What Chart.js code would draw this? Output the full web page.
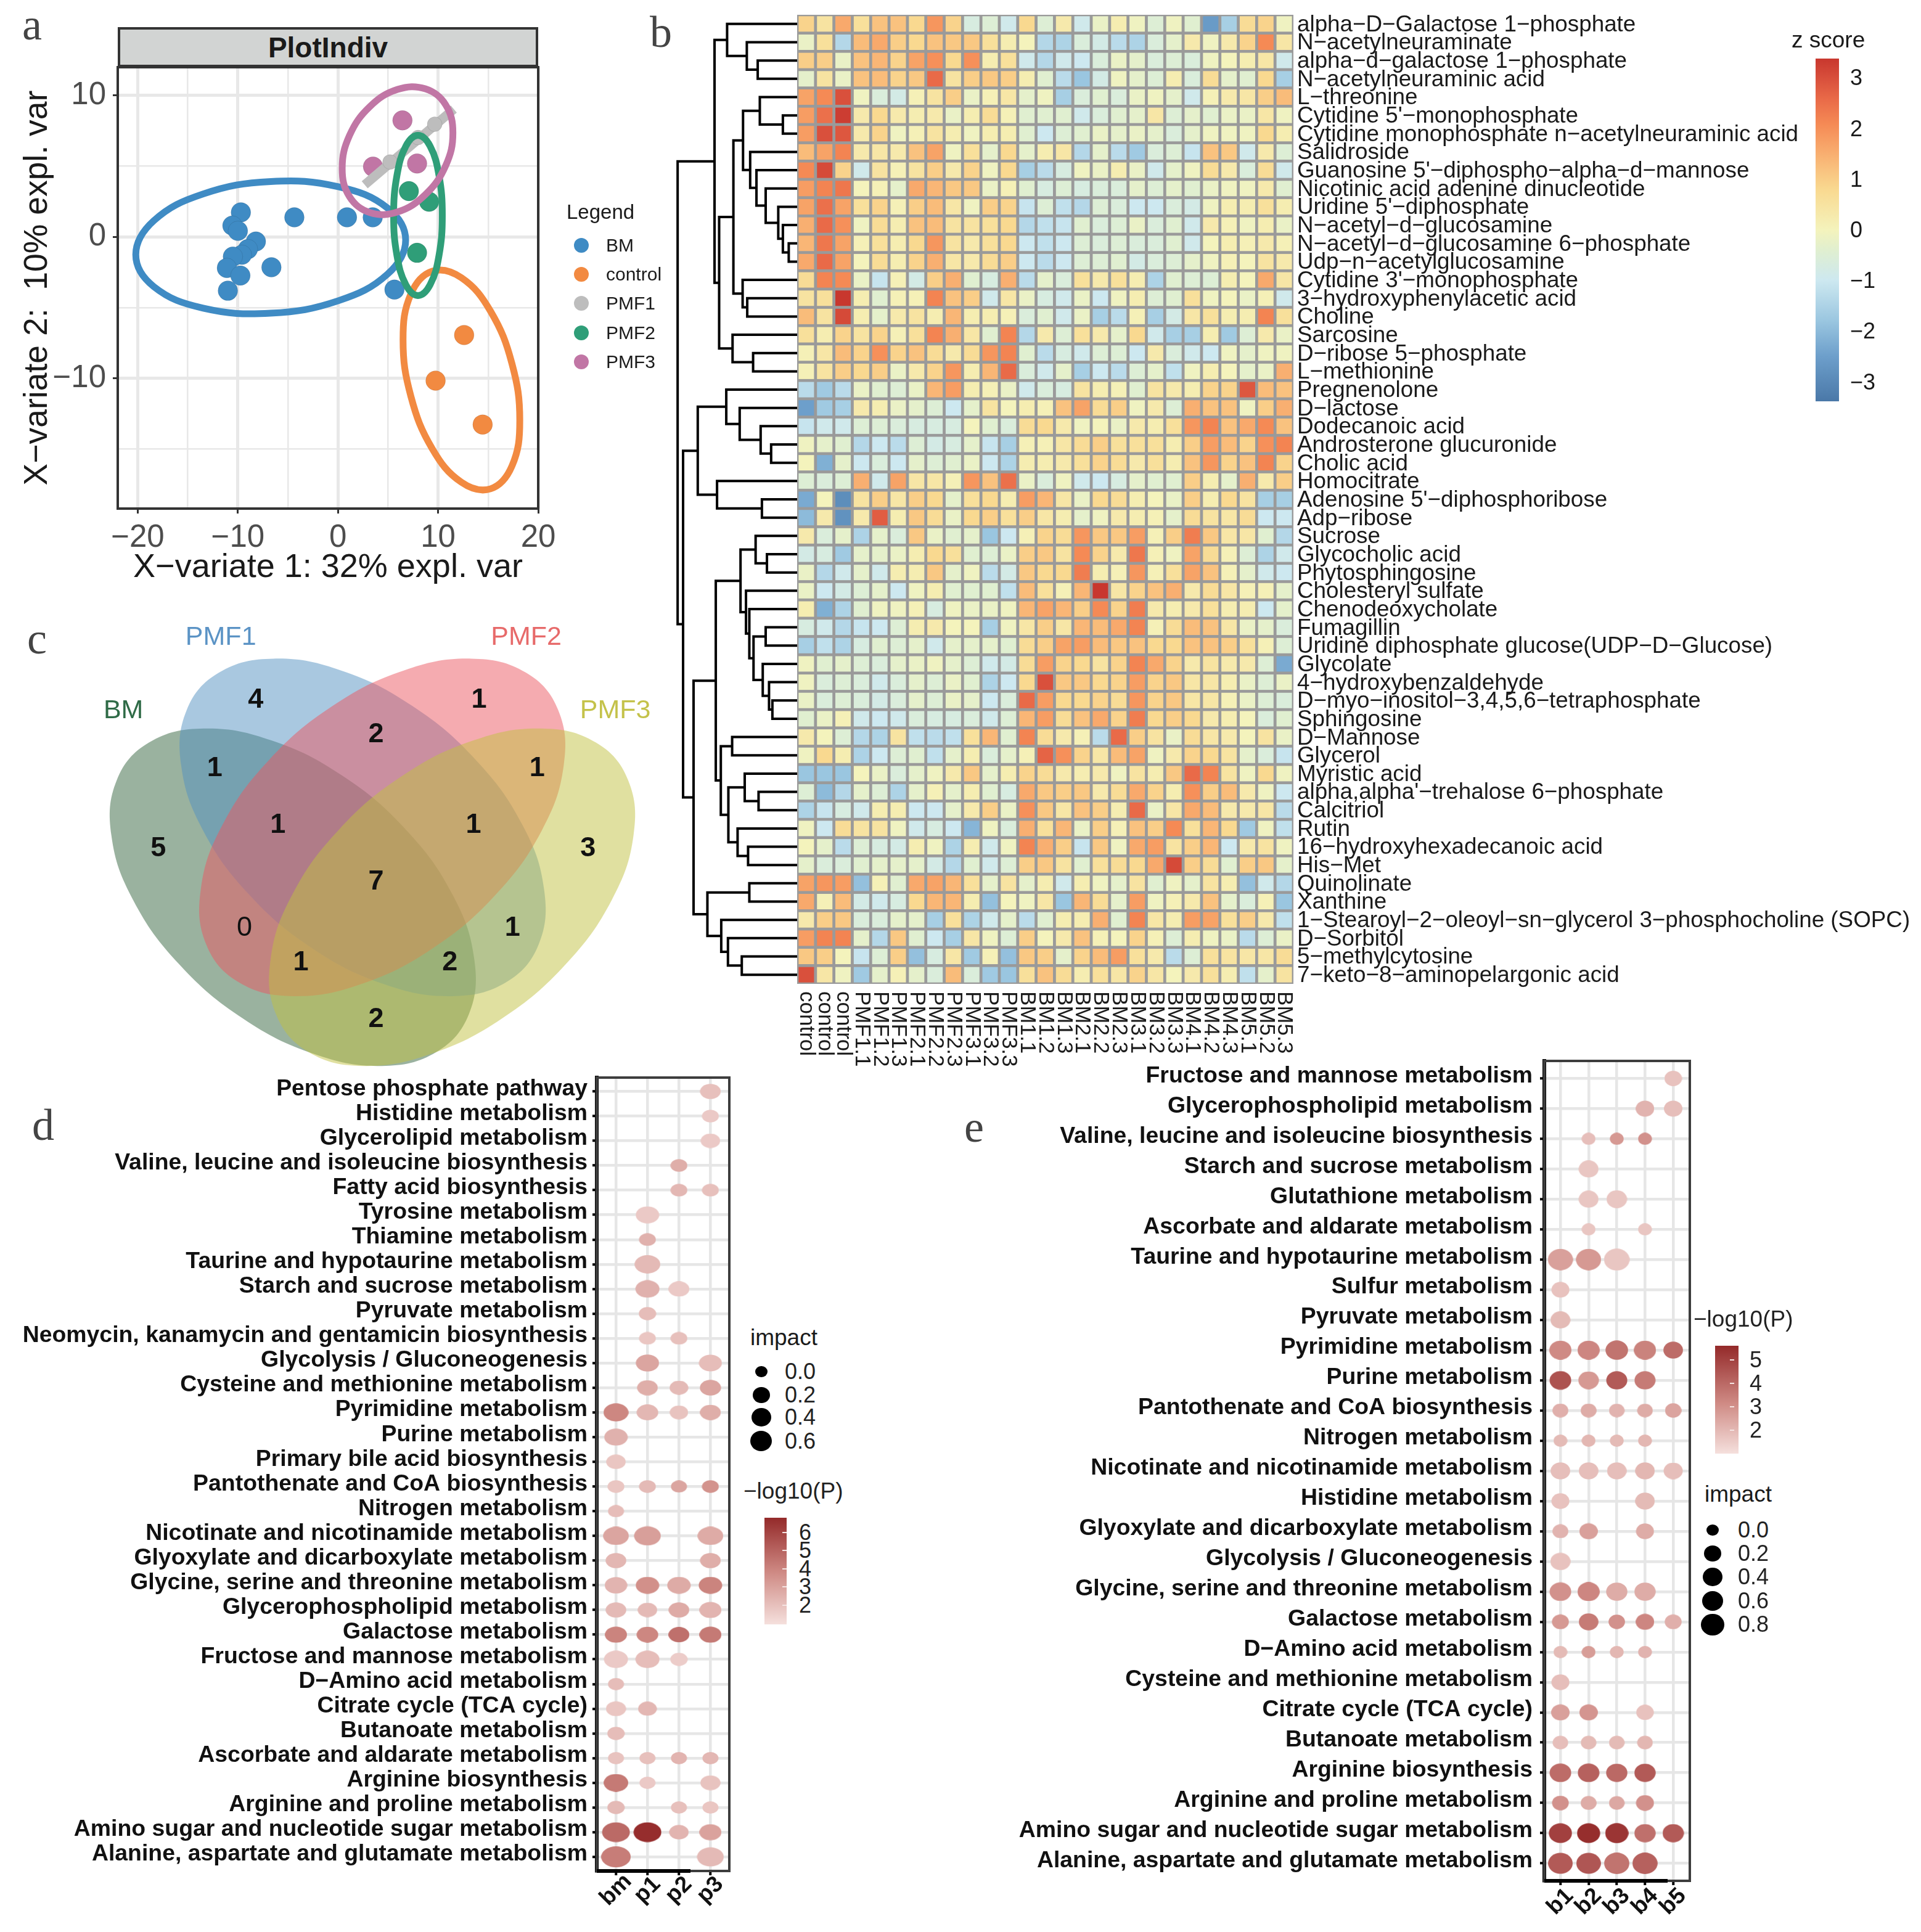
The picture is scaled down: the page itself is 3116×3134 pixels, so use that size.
<!DOCTYPE html>
<html>
<head>
<meta charset="utf-8">
<title>Metabolomics figure</title>
<script src="https://cdn.jsdelivr.net/npm/chart.js@4/dist/chart.umd.min.js"></script>
<style>
  html, body { margin: 0; padding: 0; background: #fff; }
  #page { position: relative; width: 3116px; height: 3134px; overflow: hidden; font-family: "Liberation Sans", sans-serif; }
  #page canvas { position: absolute; }
  .txt { position: absolute; white-space: pre; line-height: 1; color: #1a1a1a; z-index: 5; }
  .box { position: absolute; z-index: 4; }
</style>
</head>
<body>
<div id="page"></div>
<script>
// ---- panel a: score plot
const scoreXTicks = [-20, -15, -10, -5, 0, 5, 10, 15, 20]
const scoreYTicks = [-15, -10, -5, 0, 5, 10]
const bmX = [-9.7, -10.55, -10.0, -8.2, -9.0, -9.6, -10.5, -11.1, -9.75, -11.0, -6.65, -4.36, 0.9, 3.47, 5.64]
const bmY = [1.74, 0.8, 0.43, -0.32, -0.86, -1.26, -1.39, -2.19, -2.73, -3.8, -2.14, 1.39, 1.39, 1.39, -3.72]
const controlX = [12.6, 9.75, 14.45]
const controlY = [-6.93, -10.16, -13.26]
const pmf1X = [5.2, 8.0, 9.66]
const pmf1Y = [5.3, 7.03, 7.97]
const pmf2X = [7.08, 9.1, 7.9]
const pmf2Y = [3.24, 2.49, -1.12]
const pmf3X = [6.44, 3.5, 7.9]
const pmf3Y = [8.24, 4.97, 5.19]
// outlines
const bmRing = [[6.76,-0.22],[4.96,2.04],[0.03,3.55],[-6.72,3.92],[-13.47,3.04],[-18.4,1.15],[-20.2,-1.25],[-18.4,-3.51],[-13.47,-5.03],[-6.72,-5.39],[0.03,-4.51],[4.96,-2.62]]
const controlRing = [[18.16,-12.96],[17.38,-8.96],[15.25,-5.26],[12.33,-2.88],[9.41,-2.42],[7.28,-4.03],[6.5,-7.26],[7.28,-11.26],[9.41,-14.96],[12.33,-17.34],[15.25,-17.8],[17.38,-16.19]]
const pmf1Ring = [[2.67,3.69],[11.57,9.04]]
const pmf2Ring = [[10.42,1.52],[10.09,4.35],[9.2,6.42],[7.99,7.18],[6.78,6.42],[5.89,4.35],[5.56,1.52],[5.89,-1.31],[6.78,-3.38],[7.99,-4.14],[9.2,-3.38],[10.09,-1.31]]
const pmf3Ring = [[11.48,7.36],[10.75,9.35],[8.72,10.47],[5.95,10.43],[3.18,9.21],[1.15,7.17],[0.42,4.84],[1.15,2.85],[3.18,1.73],[5.95,1.77],[8.72,2.99],[10.75,5.03]]

// ---- panel b: heatmap
const heatCols = ['control','control','control','PMF1.1','PMF1.2','PMF1.3','PMF2.1','PMF2.2','PMF2.3','PMF3.1','PMF3.2','PMF3.3',
  'BM1.1','BM1.2','BM1.3','BM2.1','BM2.2','BM2.3','BM3.1','BM3.2','BM3.3','BM4.1','BM4.2','BM4.3','BM5.1','BM5.2','BM5.3']
const heatNames = ['alpha−D−Galactose 1−phosphate','N−acetylneuraminate','alpha−d−galactose 1−phosphate','N−acetylneuraminic acid','L−threonine',
  "Cytidine 5'−monophosphate",'Cytidine monophosphate n−acetylneuraminic acid','Salidroside',"Guanosine 5'−diphospho−alpha−d−mannose",'Nicotinic acid adenine dinucleotide',
  "Uridine 5'−diphosphate",'N−acetyl−d−glucosamine','N−acetyl−d−glucosamine 6−phosphate','Udp−n−acetylglucosamine',"Cytidine 3'−monophosphate",
  '3−hydroxyphenylacetic acid','Choline','Sarcosine','D−ribose 5−phosphate','L−methionine','Pregnenolone','D−lactose','Dodecanoic acid','Androsterone glucuronide',
  'Cholic acid','Homocitrate',"Adenosine 5'−diphosphoribose",'Adp−ribose','Sucrose','Glycocholic acid','Phytosphingosine','Cholesteryl sulfate','Chenodeoxycholate',
  'Fumagillin','Uridine diphosphate glucose(UDP−D−Glucose)','Glycolate','4−hydroxybenzaldehyde','D−myo−inositol−3,4,5,6−tetraphosphate','Sphingosine','D−Mannose',
  'Glycerol','Myristic acid',"alpha,alpha'−trehalose 6−phosphate",'Calcitriol','Rutin','16−hydroxyhexadecanoic acid','His−Met','Quinolinate','Xanthine',
  '1−Stearoyl−2−oleoyl−sn−glycerol 3−phosphocholine (SOPC)','D−Sorbitol','5−methylcytosine','7−keto−8−aminopelargonic acid']
const heatValues = [
[.9,.5,1.6,.6,1.2,1.2,.8,1.9,.9,-.7,-.5,-.9,.8,-.5,.3,-.9,-.2,.2,-.1,-.5,-.1,-.4,-2.6,-1.6,.7,.9,-.1],
[-.2,.6,-1.4,1.3,1.6,1.0,.8,1.2,1.1,1.1,.6,.2,.0,-1.4,-1.5,-.6,-.8,-1.3,-1.5,-.6,-.3,.3,-.1,.3,.9,2.1,.4],
[1.0,1.0,-.2,1.2,1.4,.9,1.7,2.0,.8,2.0,.2,.6,-.9,-1.4,-.9,-1.0,-.6,-.2,-.3,-.6,-.5,-.6,-.1,.0,.2,.4,-.9],
[-.3,.5,-.2,1.2,1.3,.9,1.1,2.6,.5,1.0,1.1,1.0,.2,-.4,-1.3,-1.8,-.8,-.1,-.3,-.5,.2,-.6,.7,-.3,-.4,.8,-1.6],
[1.7,2.1,3.0,-.1,-.6,-.8,.1,.5,1.0,-.2,.1,.4,-.3,-.1,-1.6,-.6,-.4,-.6,-.2,-.1,-.3,-.9,.1,.3,.4,1.0,1.3],
[1.8,2.5,3.3,.3,.8,.3,.2,.3,-.2,.2,.7,.1,-.4,-.4,-.4,-.9,-.6,-.4,-.3,.4,-.5,-.3,-.4,-.2,-.2,.4,-.1],
[1.8,3.0,2.9,.3,.9,-.1,.1,.5,.2,-.1,.2,.2,-.4,-1.0,-.5,-.4,-.2,-.3,-.2,-.3,-.6,-.3,-.1,-.1,-.1,.8,.2],
[1.3,1.7,2.2,.3,.4,.3,1.2,1.7,-.1,.6,-.3,.8,-.3,.2,.4,-1.4,-.3,-1.3,-1.7,-.6,-.5,-1.1,1.2,1.1,-.9,.3,-.5],
[2.1,3.1,.9,-.9,.5,.1,.5,1.0,.3,.9,-.1,.8,-1.6,-1.3,-.7,-.1,-.2,.2,-.2,-.9,-.3,-.1,.7,.3,-.6,.7,-.9],
[1.8,2.2,2.4,.0,.1,-.3,1.6,1.4,1.1,1.1,-.2,.1,-.4,-.7,-.5,-.7,-.6,-.6,-.3,-.5,-.3,-.4,-.2,-.1,-.1,.3,-.4],
[1.7,2.5,1.7,.6,.9,.1,1.0,1.3,.4,-.1,1.0,.9,-1.1,-.5,-1.2,-1.4,-.5,-.6,-1.0,-1.0,-.6,-.8,-.1,.2,.2,.6,.2],
[1.5,2.6,2.0,-.1,.7,.2,1.2,1.3,.5,.5,.6,.8,-1.4,-1.2,-1.1,-.4,-.6,-.5,-.2,-.6,-.4,-.9,.3,.1,-.1,.2,-.2],
[1.4,2.4,1.7,.1,.6,.2,.8,1.9,.5,.3,.6,.8,-1.0,-1.2,-1.0,-.5,-.6,-.5,-.6,-.6,-.4,-.9,.0,.2,.1,.3,.1],
[1.6,2.6,1.7,.0,.7,.2,.9,1.5,.4,.3,.7,1.0,-1.0,-1.3,-1.0,-.5,-.5,-.4,-.8,-.6,-.5,-.3,-.1,.1,.0,.5,.3],
[.7,2.2,2.1,-.2,-1.1,.1,-.8,1.0,1.5,-.4,-.7,1.5,-1.3,-.3,-.6,.6,.3,.6,.2,-1.5,-.4,-.5,-.5,.2,.0,1.6,.4],
[.5,.6,3.4,.2,-.4,.1,.1,2.2,1.2,1.0,-.9,.4,-.2,-.7,-.9,-.2,-1.0,-.1,.2,-.5,-.4,.6,-.1,.0,-.2,.1,-.9],
[1.3,.5,3.1,.2,-.3,.3,.5,.2,1.4,.2,.2,.1,-.6,-.4,-.9,-.2,-1.6,-1.3,.1,-1.6,-.8,.4,.6,.2,.2,2.2,.6],
[.6,.2,.9,.5,.9,.1,.6,2.2,1.5,.4,-.4,2.2,-1.4,.3,-.5,.6,.3,-.3,.8,-.9,-1.6,-1.6,.2,-1.7,-.5,.3,-.2],
[.1,.4,1.3,.9,2.0,.9,1.2,.7,.3,.7,1.9,2.2,-.4,-1.3,-.7,-.9,-.5,-.5,-1.0,.3,-.6,-.9,-1.0,-.1,-.3,-.1,-.1],
[.1,.5,1.0,.8,1.0,-.2,.3,.9,1.9,.2,1.4,2.6,-.6,-.9,-.3,-1.6,-1.0,-1.3,-.5,-.3,-1.2,-.1,.2,.0,-.3,-.2,1.5],
[-1.3,-1.7,-1.3,-.2,-.4,-.5,-.2,1.4,1.8,.2,.1,-.2,-.9,-.6,-.7,.5,.2,.1,-.4,.5,.3,.2,.9,.9,2.9,1.3,1.2],
[-2.5,-1.7,-1.6,.3,.2,-.2,-.3,-.5,-1.0,-.3,.5,.0,.2,.1,1.2,1.7,.7,1.0,-.1,.3,-.5,1.5,1.2,1.2,-.1,1.0,1.5],
[-1.1,-.9,-.9,-.5,-.5,-.6,-.7,-.7,-.7,.0,-.4,-.6,.7,.8,.3,-.1,.0,-.2,.3,.2,.6,1.9,2.2,1.2,1.6,2.1,1.2],
[-.1,-.3,-.4,-1.4,-1.0,-1.3,-.5,-.8,-.7,-.3,-1.1,-1.6,.1,.1,.4,.7,1.0,.6,.6,.6,.2,1.0,1.8,1.3,.9,2.0,2.2],
[.0,-2.2,-.3,-1.0,-.6,-1.0,-.3,-.5,-.4,-.2,-1.0,-1.5,.2,.2,.3,.6,.9,.7,.3,.6,.2,1.2,1.9,.9,1.2,2.2,.9],
[-.5,-.6,-.5,1.5,-.9,1.7,.4,.4,.1,1.9,1.2,2.5,-.2,-.6,-.1,-.9,-1.0,-.7,-.3,-.4,-.4,1.0,.2,-.3,1.5,.3,1.0],
[-2.3,.0,-2.9,.5,1.0,.4,1.0,.8,-.3,.6,.8,.2,1.8,1.4,.4,-.2,.8,.7,.2,.0,-.2,1.0,.2,.8,.5,-1.6,-1.6],
[-2.0,.3,-2.8,.3,2.8,.2,1.1,.7,-.2,.8,1.0,.6,1.0,.4,.2,-.3,-.1,.3,.2,.1,-.3,.7,.5,.4,.7,-1.0,-1.0],
[.3,-.6,-.3,-1.5,-.3,-.6,1.1,-.2,-.4,-.3,-1.8,-1.0,.1,.9,.7,1.9,1.1,1.1,1.8,.1,1.0,2.3,1.1,.4,.4,-.4,-1.4],
[-.8,-.7,-1.7,-.3,-.3,-.2,.2,.8,.6,-.4,-.5,-.2,1.0,1.1,.5,2.1,.9,.3,2.4,.1,-.1,1.7,.7,.1,-.5,-1.5,-.9],
[-.2,-1.4,-.9,-.3,-.9,.2,.2,1.1,-.3,-.1,-1.3,-.8,1.1,.8,.8,2.3,.2,.1,1.9,.1,.6,1.7,1.2,.1,-.3,-.9,-1.0],
[-.2,-1.0,-.8,-.5,-.3,-1.0,-.1,.2,-.4,-.4,-.4,-1.2,1.3,.6,.1,1.4,3.4,.4,.9,1.2,1.5,.3,.7,.4,.1,.1,-.3],
[.2,-2.2,-1.5,-.4,-.1,-.1,.1,-.7,-.1,-.2,-.2,-.1,1.4,1.7,1.4,1.0,2.1,.9,2.3,.3,.2,.3,.6,.2,.2,-1.0,-.3],
[-.7,-.9,-1.4,-1.1,-1.0,-.5,.2,.3,.0,.0,-1.6,-.1,.4,1.0,.4,1.4,1.3,1.6,2.2,.1,.7,1.3,1.2,.4,-.2,-.3,-.6],
[-1.6,-1.2,-1.5,-.7,-.4,-.5,-.3,-.9,-.3,-.3,-.3,-.4,.7,1.0,1.7,1.8,1.3,1.1,1.2,.8,.8,1.2,1.2,1.0,.6,.1,-.5],
[-.1,-.4,-.3,-.5,-.6,-.3,-.2,-.1,-.3,-.5,-.9,-.8,.7,1.8,.9,.8,.5,.9,2.2,1.6,.9,.3,.5,.3,.3,-.5,-2.3],
[-.1,-.6,-.5,-.6,-.9,-.6,-.3,-.5,-.2,-.4,-1.5,-1.0,.8,3.0,1.1,1.1,.8,.9,1.8,.9,1.1,.4,.4,.2,-.2,-.5,-.2],
[-.2,-.6,-.5,-.6,-.8,-.6,-.3,-.5,-.2,-.3,-1.0,-.6,2.6,1.8,.8,.8,.9,.7,1.9,.9,1.1,.4,.4,.1,-.2,-.5,-.6],
[-.4,-.2,.1,-.9,-1.0,-.9,-.6,-.7,-.7,-.6,-.9,-.5,1.4,1.8,.7,1.2,1.6,.9,2.3,.8,1.0,.8,.3,.2,.0,-.6,-.4],
[.3,.0,-.5,-1.4,-1.5,.5,-1.2,-1.3,-1.2,.6,1.4,-.4,2.2,.7,.3,.1,-1.3,2.6,1.0,.5,-.2,.7,.4,.3,.0,.5,-.2],
[-.1,.8,.2,-1.5,-1.0,-.5,-.4,-1.2,-.3,.2,-.6,-.3,.1,2.7,2.0,.9,.4,1.3,1.7,-.1,.3,.9,.8,.5,-.3,-.6,-1.1],
[-1.8,-1.8,-1.8,.0,-.2,-.6,-.3,-.1,.3,1.1,-.3,.2,.9,.7,.3,.2,.3,-.1,.5,.2,1.1,2.6,2.2,.5,-.1,.8,-.1],
[-.5,-2.0,-1.4,-.3,-.5,-1.5,-.3,.1,-.3,.2,-.4,-.7,1.6,1.1,1.0,1.1,.3,.7,1.6,.9,.2,2.0,1.0,1.3,.3,-.1,-1.0],
[-1.5,-1.1,-.7,-.9,.2,.2,-1.0,-1.0,-.3,.3,1.0,-.2,2.0,1.1,.4,1.2,1.0,.2,2.6,-.2,.4,1.6,1.3,.3,.3,.4,-1.3],
[-.1,-1.0,.7,.5,.5,-.1,-.9,-.7,-1.0,-2.1,-.1,-.6,1.5,.6,1.4,-.2,1.0,.1,1.2,1.0,2.1,.6,1.4,.8,-1.7,-.1,-1.2],
[.0,-.3,-1.3,-.5,-.7,-.8,.2,-.1,-1.5,.2,-.9,-.1,2.2,1.5,1.0,-1.1,1.1,-.1,1.6,1.8,.5,1.0,1.4,-1.0,.3,.5,-.1],
[-.3,-.6,-.6,-.4,-.3,-.3,-.3,-.8,-1.4,-.4,-.9,-.5,1.0,1.1,.5,-.4,.6,.7,.8,1.6,3.1,1.0,.7,-.4,1.0,1.1,-.3],
[1.7,1.9,1.8,-1.9,.1,-.4,1.6,1.7,1.4,.6,-.3,.5,-.3,.2,-.9,.2,-.1,-.3,.5,-.4,-.1,-.3,.5,.2,-1.9,-.9,-1.4],
[1.6,.1,1.3,-.8,-.9,-.7,.8,1.4,1.4,.2,-1.9,.0,-.1,.4,-1.8,1.4,.7,-.3,1.8,-.1,.1,.3,1.2,-.3,-.6,.1,-1.8],
[.3,1.0,1.1,-.6,-.6,-.3,-.3,-1.6,.6,-1.5,-.9,-.3,-1.3,-.4,.2,.2,1.5,-.4,2.2,.4,.2,1.8,1.7,.6,1.0,.3,-1.2],
[1.8,2.2,2.2,-.3,-1.4,1.1,-.4,-1.0,-1.6,.4,-.1,-.5,1.0,.0,.3,1.2,.1,.0,.9,.1,-.5,.2,-.1,-.2,-1.3,-.5,-.2],
[1.1,1.0,.0,-1.1,-.5,1.0,-1.9,-.7,.4,-1.7,.1,-1.9,1.1,1.0,-.3,.9,1.3,1.8,.6,.3,-1.3,-.5,.6,.5,.4,.4,.7],
[3.0,.4,-.1,-1.7,-.3,.1,-.3,-.6,1.3,-.6,-1.7,-1.8,.6,1.2,.7,.2,.6,.4,.9,.4,.0,.3,.6,.2,-1.2,-.3,.5]
]
const zStops = [[-3.4,'#4a78a8'],[-2.5,'#6d9fcb'],[-1.8,'#9ac6e0'],[-1,'#cde8f0'],[-.4,'#e0efd0'],[0,'#f4f3bc'],[.8,'#f9d990'],
  [1.2,'#f9c27f'],[1.6,'#f8a96c'],[2.1,'#f58a55'],[2.6,'#e96a48'],[3,'#d9503c'],[3.4,'#c8372e']]
const zTicks = [3, 2, 1, 0, -1, -2, -3]
// row tree: [height, child, child], leaves are row numbers
const dendroTree = [87,
  [175, [205, 1, [252, 2, [278, 3, 4]]],
    [186, [220, [243, [283, 5, [338, 6, 7]], [260, 8, [275, 9, [297, 10, [327, 11, [338, 12, [352, 13, 14]]]]]]],
      [242, 15, [253, 16, 17]]], [218, 18, [267, 19, 20]]]],
  [100, [135, [203, 21, [235, 22, [285, 23, [310, 24, 25]]]], [181, 26, [288, 27, 28]]],
    [125, [178, [237, [273, 29, [300, 30, 31]], [250, 32, [258, 33, [268, [297, 34, 35], [290, 36, [305, 37, [313, 38, 39]]]]]]],
      [190, [217, 40, 41], [208, [247, 42, [280, 43, 44]], [230, 45, [255, 46, 47]]]]],
      [158, [258, 48, 49], [191, 50, [207, 51, [240, 52, 53]]]]]]]

// ---- panel c: venn outlines and counts
const vennBM = [[256,1196],[129,975],[69,753],[84,562],[173,433],[323,385],[509,426],[705,548],[880,734],[1007,955],[1067,1177],[1052,1368],[963,1497],[813,1545],[627,1504],[431,1382]]
const vennPMF1 = [[448,956],[321,735],[261,513],[276,322],[365,193],[515,145],[701,186],[897,308],[1072,494],[1199,715],[1259,937],[1244,1128],[1155,1257],[1005,1305],[819,1264],[623,1142]]
const vennPMF2 = [[1126,956],[1253,735],[1313,513],[1298,322],[1209,193],[1059,145],[873,186],[677,308],[502,494],[375,715],[315,937],[330,1128],[419,1257],[569,1305],[755,1264],[951,1142]]
const vennPMF3 = [[1318,1196],[1445,975],[1505,753],[1490,562],[1401,433],[1251,385],[1065,426],[869,548],[694,734],[567,955],[507,1177],[522,1368],[611,1497],[761,1545],[947,1504],[1143,1382]]
const vennCounts = [[466,287,'4'],[1080,287,'1'],[797,405,'2'],[353,522,'1'],[1240,522,'1'],[527,718,'1'],[1065,718,'1'],[198,797,'5'],[1380,797,'3'],[797,913,'7'],[435,1072,'0'],[1172,1072,'1'],[590,1190,'1'],[1000,1190,'2'],[797,1385,'2']]
const vennNames = [[102,325,'BM','#2f6b47'],[370,72,'PMF1','#5b93c5'],[1210,72,'PMF2','#e76a6a'],[1455,325,'PMF3','#c4c24a']]

// ---- panel d: pathway bubbles
const dGroups = ['bm', 'p1', 'p2', 'p3']
const dPathways = ['Pentose phosphate pathway','Histidine metabolism','Glycerolipid metabolism','Valine, leucine and isoleucine biosynthesis','Fatty acid biosynthesis',
  'Tyrosine metabolism','Thiamine metabolism','Taurine and hypotaurine metabolism','Starch and sucrose metabolism','Pyruvate metabolism',
  'Neomycin, kanamycin and gentamicin biosynthesis','Glycolysis / Gluconeogenesis','Cysteine and methionine metabolism','Pyrimidine metabolism','Purine metabolism',
  'Primary bile acid biosynthesis','Pantothenate and CoA biosynthesis','Nitrogen metabolism','Nicotinate and nicotinamide metabolism','Glyoxylate and dicarboxylate metabolism',
  'Glycine, serine and threonine metabolism','Glycerophospholipid metabolism','Galactose metabolism','Fructose and mannose metabolism','D−Amino acid metabolism',
  'Citrate cycle (TCA cycle)','Butanoate metabolism','Ascorbate and aldarate metabolism','Arginine biosynthesis','Arginine and proline metabolism',
  'Amino sugar and nucleotide sugar metabolism','Alanine, aspartate and glutamate metabolism']
const dImpact = [[null,null,null,.12],[null,null,null,.02],[null,null,null,.08],[null,null,.02,null],[null,null,.02,.02],[null,.25,null,null],[null,.02,null,null],
  [null,.38,null,null],[null,.28,.13,null],[null,.03,null,null],[null,.02,.02,null],[null,.23,null,.22],[null,.12,.06,.14],[.34,.16,.05,.13],[.25,null,null,null],
  [.08,null,null,null],[.02,.02,.01,.02],[.01,null,null,null],[.38,.45,null,.38],[.12,null,null,.12],[.2,.25,.25,.25],[.12,.08,.12,.18],[.18,.16,.13,.18],[.28,.28,.03,null],
  [.01,null,null,null],[.1,.06,null,null],[.03,null,null,null],[.01,.01,.01,.01],[.31,.01,null,.1],[.03,null,.01,.01],[.53,.53,.08,.18],[.68,null,null,.45]]
const dLogP = [[null,null,null,2.0],[null,null,null,1.7],[null,null,null,1.7],[null,null,2.6,null],[null,null,2.3,2.0],[null,1.7,null,null],[null,2.5,null,null],
  [null,2.2,null,null],[null,2.5,1.7,null],[null,2.1,null,null],[null,1.8,2.0,null],[null,2.9,null,2.1],[null,2.6,2.2,2.9],[3.9,2.3,1.9,2.6],[2.5,null,null,null],
  [1.8,null,null,null],[1.8,2.2,2.9,3.5],[2.1,null,null,null],[2.9,3.1,null,2.7],[2.3,null,null,2.6],[2.4,3.6,2.7,4.0],[2.2,2.2,2.7,2.4],[4.0,3.9,4.6,4.3],[1.7,2.1,1.6,null],
  [2.1,null,null,null],[1.8,2.3,null,null],[2.1,null,null,null],[1.9,2.0,2.4,2.3],[4.3,1.7,null,1.9],[2.2,null,2.0,1.8],[4.8,6.7,2.4,3.0],[4.2,null,null,2.2]]
const dImpactKey = [0, 0.2, 0.4, 0.6]
const dLogKey = [6, 5, 4, 3, 2]

// ---- panel e: pathway bubbles
const eGroups = ['b1', 'b2', 'b3', 'b4', 'b5']
const ePathways = ['Fructose and mannose metabolism','Glycerophospholipid metabolism','Valine, leucine and isoleucine biosynthesis','Starch and sucrose metabolism',
  'Glutathione metabolism','Ascorbate and aldarate metabolism','Taurine and hypotaurine metabolism','Sulfur metabolism','Pyruvate metabolism','Pyrimidine metabolism',
  'Purine metabolism','Pantothenate and CoA biosynthesis','Nitrogen metabolism','Nicotinate and nicotinamide metabolism','Histidine metabolism',
  'Glyoxylate and dicarboxylate metabolism','Glycolysis / Gluconeogenesis','Glycine, serine and threonine metabolism','Galactose metabolism','D−Amino acid metabolism',
  'Cysteine and methionine metabolism','Citrate cycle (TCA cycle)','Butanoate metabolism','Arginine biosynthesis','Arginine and proline metabolism',
  'Amino sugar and nucleotide sugar metabolism','Alanine, aspartate and glutamate metabolism']
const eImpact = [[null,null,null,null,.13],[null,null,null,.18,.18],[null,.01,.01,.01,null],[null,.27,null,null,null],[null,.27,.32,null,null],[null,.01,null,.01,null],
  [.78,.78,.85,null,null],[.15,null,null,null,null],[.27,null,null,null,null],[.46,.46,.5,.46,.25],[.41,.32,.36,.36,null],[.06,.06,.05,.05,.08],[.01,.01,.01,.01,null],
  [.25,.25,.25,.25,.22],[.15,null,null,.25,null],[.06,.18,null,.15,null],[.29,null,null,null,null],[.41,.46,.38,.38,null],[.1,.25,.08,.18,.1],[.01,.01,.01,.01,null],
  [.15,null,null,null,null],[.18,.18,null,.13,null],[.05,.05,.05,.05,null],[.41,.41,.38,.38,null],[.09,.06,.05,.15,null],[.55,.55,.57,.38,.38],[.72,.72,.78,.78,null]]
const eLogP = [[null,null,null,null,1.8],[null,null,null,2.2,1.9],[null,1.9,2.9,3.1,null],[null,1.7,null,null,null],[null,1.7,1.7,null,null],[null,1.7,null,1.7,null],
  [2.7,2.9,1.7,null,null],[1.8,null,null,null,null],[2.0,null,null,null,null],[3.3,3.4,3.9,3.5,4.1],[4.8,2.9,4.6,3.7,null],[2.3,2.4,2.2,2.4,2.6],[2.0,2.1,2.0,2.1,null],
  [1.9,1.9,1.9,2.1,1.9],[1.8,null,null,2.0,null],[2.2,2.7,null,2.4,null],[1.8,null,null,null,null],[3.1,3.4,2.4,2.4,null],[2.9,3.7,3.1,3.4,2.3],[2.0,2.8,2.1,2.2,null],
  [1.9,null,null,null,null],[2.7,3.0,null,1.8,null],[1.9,2.0,2.0,2.1,null],[4.1,4.4,4.2,4.6,null],[3.1,2.4,2.5,3.1,null],[5.3,5.8,5.6,4.0,4.6],[4.6,4.7,3.9,4.4,null]]
const eImpactKey = [0, 0.2, 0.4, 0.6, 0.8]
const eLogKey = [5, 4, 3, 2]

const page = document.getElementById('page')
const sans = 'Liberation Sans'
Chart.defaults.font.family = sans
Chart.defaults.animation = false
Chart.defaults.responsive = false
Chart.defaults.devicePixelRatio = 1
Chart.defaults.layout.autoPadding = false
Chart.defaults.plugins.legend.display = false
Chart.defaults.plugins.tooltip.enabled = false

function place(left, top, w, h) {
  const c = document.createElement('canvas')
  c.width = w
  c.height = h
  c.style.left = left + 'px'
  c.style.top = top + 'px'
  page.appendChild(c)
  return c
}

function text(str, x, y, size, opts) {
  opts = opts || {}
  const d = document.createElement('div')
  d.className = 'txt'
  d.textContent = str
  d.style.left = x + 'px'
  d.style.top = y + 'px'
  d.style.fontSize = size + 'px'
  d.style.fontFamily = opts.family || sans
  if (opts.color) d.style.color = opts.color
  if (opts.weight) d.style.fontWeight = opts.weight
  d.style.transform = opts.center ? 'translate(-50%,-50%)' : 'translateY(-50%)'
  page.appendChild(d)
}

function box(x, y, w, h, css) {
  const d = document.createElement('div')
  d.className = 'box'
  d.style.cssText += `left:${x}px;top:${y}px;width:${w}px;height:${h}px;` + (css || '')
  page.appendChild(d)
}

// draws a panel background under the marks and a frame over them
Chart.register({
  id: 'panelFrame',
  beforeDatasetsDraw(chart, args, o) {
    if (!o.fill) return
    const a = chart.chartArea
    chart.ctx.fillStyle = o.fill
    chart.ctx.fillRect(a.left, a.top, a.width, a.height)
  },
  afterDatasetsDraw(chart, args, o) {
    if (!o.stroke) return
    const a = chart.chartArea, ctx = chart.ctx
    ctx.strokeStyle = o.stroke
    ctx.lineWidth = o.width
    ctx.strokeRect(a.left, a.top, a.width, a.height)
    if (o.baseTo) {
      ctx.strokeStyle = '#000'
      ctx.lineWidth = 6
      ctx.beginPath()
      ctx.moveTo(a.left, a.bottom)
      ctx.lineTo(o.baseTo, a.bottom)
      ctx.stroke()
    }
  }
})

// closes the outline datasets the same way radar does
Chart.register({
  id: 'closedRings',
  beforeDatasetUpdate(chart, args) {
    if (chart.data.datasets[args.index].closed) {
      args.meta.dataset._loop = true
      args.meta.dataset._fullLoop = true
    }
  }
})

function xy(xs, ys) { return xs.map((x, i) => ({ x: x, y: ys[i] })) }
function ring(pts) { return pts.map(p => ({ x: p[0], y: p[1] })) }
function hex(c) { return [parseInt(c.slice(1, 3), 16), parseInt(c.slice(3, 5), 16), parseInt(c.slice(5, 7), 16)] }

function ramp(stops, v) {
  if (v <= stops[0][0]) return stops[0][1]
  for (let i = 1; i < stops.length; i++) {
    if (v <= stops[i][0]) {
      const t = (v - stops[i - 1][0]) / (stops[i][0] - stops[i - 1][0])
      const a = hex(stops[i - 1][1]), b = hex(stops[i][1])
      return 'rgb(' + a.map((n, k) => Math.round(n + (b[k] - n) * t)).join(',') + ')'
    }
  }
  return stops[stops.length - 1][1]
}

function cssRamp(stops, lo, hi) {
  return 'linear-gradient(to top,' + stops.map(s => `${s[1]} ${((s[0] - lo) / (hi - lo) * 100).toFixed(1)}%`).join(',') + ')'
}

// ---------- panel a
box(191, 44, 682, 65, 'background:#d2d4d3;border:4px solid #333;box-sizing:border-box;')
text('PlotIndiv', 532, 77, 46, { center: true, weight: 'bold', color: '#1a1a1a' })

function ringSet(pts, color) {
  return { data: ring(pts), showLine: true, closed: true, tension: .4, borderColor: color, borderWidth: 11, pointRadius: 0, fill: false, order: 1 }
}
new Chart(place(0, 0, 1000, 960), {
  type: 'scatter',
  data: { datasets: [
    { data: xy(bmX, bmY), backgroundColor: '#3f8bc4', pointRadius: 16, order: 9 },
    { data: xy(controlX, controlY), backgroundColor: '#f28a41', pointRadius: 16, order: 9 },
    { data: xy(pmf2X, pmf2Y), backgroundColor: '#2f9e78', pointRadius: 16, order: 9 },
    { data: xy(pmf3X, pmf3Y), backgroundColor: '#c176a5', pointRadius: 16, order: 9 },
    { data: xy(pmf1X, pmf1Y), backgroundColor: '#bdbdbd', pointRadius: 12, order: 4 },
    Object.assign(ringSet(bmRing, '#3f8bc4'), { order: 5 }),
    Object.assign(ringSet(controlRing, '#f28a41'), { order: 5 }),
    { data: ring(pmf1Ring), showLine: true, borderColor: '#bdbdbd', borderWidth: 15, pointRadius: 0, order: 4 },
    Object.assign(ringSet(pmf2Ring, '#2f9e78'), { order: 3 }),
    Object.assign(ringSet(pmf3Ring, '#c176a5'), { order: 2 })
  ] },
  options: {
    layout: { padding: { top: 109, right: 127 } },
    plugins: { panelFrame: { stroke: '#333', width: 4 } },
    scales: {
      x: {
        min: -22, max: 20,
        afterBuildTicks: s => { s.ticks = scoreXTicks.map(v => ({ value: v })) },
        afterFit: s => { s.height = 135 },
        grid: { color: '#e8e8e8', lineWidth: c => c.tick.value % 10 === 0 ? 5 : 2.5, tickColor: c => c.tick.value % 10 === 0 ? '#333' : 'transparent', tickWidth: 3, tickLength: 8 },
        border: { display: false },
        ticks: { autoSkip: false, maxRotation: 0, padding: 9, color: '#4d4d4d', font: { size: 51 }, callback: v => v % 10 === 0 ? String(v).replace('-', '−') : '' },
        title: { display: true, text: 'X−variate 1: 32% expl. var', color: '#1a1a1a', font: { size: 54 }, padding: { top: 0, bottom: 6 } }
      },
      y: {
        min: -19.2, max: 12,
        afterBuildTicks: s => { s.ticks = scoreYTicks.map(v => ({ value: v })) },
        afterFit: s => { s.width = 191 },
        grid: { color: '#e8e8e8', lineWidth: c => c.tick.value % 10 === 0 ? 5 : 2.5, tickColor: c => c.tick.value % 10 === 0 ? '#333' : 'transparent', tickWidth: 3, tickLength: 8 },
        border: { display: false },
        ticks: { autoSkip: false, padding: 11, color: '#4d4d4d', font: { size: 51 }, callback: v => v % 10 === 0 ? String(v).replace('-', '−') : '' },
        title: { display: true, text: 'X−variate 2:  10% expl. var', color: '#1a1a1a', font: { size: 53.5 }, padding: { top: 29, bottom: 0 } }
      }
    }
  }
})

const scoreLegend = [['BM', '#3f8bc4', 398], ['control', '#f28a41', 445], ['PMF1', '#bdbdbd', 492], ['PMF2', '#2f9e78', 539.5], ['PMF3', '#c176a5', 587]]
text('Legend', 919, 343, 33)
scoreLegend.forEach(l => {
  box(931, l[2] - 12, 24, 24, `background:${l[1]};border-radius:50%;`)
  text(l[0], 983, l[2], 30)
})
text('a', 52, 40, 72, { center: true, family: 'Liberation Serif', color: '#444' })

// ---------- panel b
function dendroPoints(tree) {
  const out = []
  function walk(n) {
    if (typeof n === 'number') return { h: 372, y: n - .5 }
    const a = walk(n[1]), b = walk(n[2])
    out.push({ x: a.h, y: a.y }, { x: n[0], y: a.y }, { x: n[0], y: b.y }, { x: b.h, y: b.y }, { x: NaN, y: NaN })
    return { h: n[0], y: (a.y + b.y) / 2 }
  }
  walk(tree)
  return out
}
new Chart(place(1040, 24, 253, 1572), {
  type: 'scatter',
  data: { datasets: [{ data: dendroPoints(dendroTree), showLine: true, borderColor: '#000', borderWidth: 4, pointRadius: 0, spanGaps: false, borderCapStyle: 'square' }] },
  options: {
    scales: {
      x: { display: false, min: 0, max: 372 },
      y: { display: false, min: 0, max: heatNames.length, reverse: true }
    }
  }
})

const heatPoints = []
const heatColors = []
heatValues.forEach((row, r) => row.forEach((v, c) => {
  heatPoints.push({ x: c + .5, y: r + .5 })
  heatColors.push(ramp(zStops, v))
}))
// canvas starts above the page so the first row label has room without pushing the plot down
new Chart(place(1293, -20, 1823, 1764), {
  type: 'scatter',
  data: { datasets: [{ data: heatPoints, pointStyle: 'rect', pointRadius: 17.7, pointBorderWidth: 0, pointBackgroundColor: heatColors }] },
  options: {
    layout: { padding: { top: 44, bottom: 148 } },
    plugins: { panelFrame: { fill: '#9a9a9a' } },
    scales: {
      x: { display: false, min: 0, max: heatCols.length },
      y: {
        position: 'right', min: 0, max: heatNames.length, reverse: true,
        afterBuildTicks: s => { s.ticks = heatNames.map((n, i) => ({ value: i + .56 })) },
        afterFit: s => { s.width = 1018 },
        grid: { display: false, drawTicks: false },
        border: { display: false },
        ticks: { autoSkip: false, padding: 6, color: '#1a1a1a', font: { size: 36.8 }, callback: (v, i) => heatNames[i] }
      }
    }
  },
  plugins: [{
    id: 'colLabels',
    afterDraw(chart) {
      const ctx = chart.ctx, sx = chart.scales.x
      ctx.save()
      ctx.fillStyle = '#1a1a1a'
      ctx.font = '35px "' + sans + '"'
      ctx.textAlign = 'left'
      ctx.textBaseline = 'middle'
      heatCols.forEach((n, i) => {
        ctx.save()
        ctx.translate(sx.getPixelForValue(i + .5), chart.chartArea.bottom + 12)
        ctx.rotate(Math.PI / 2)
        ctx.fillText(n, 0, 0)
        ctx.restore()
      })
      ctx.restore()
    }
  }]
})
text('b', 1072, 52, 72, { center: true, family: 'Liberation Serif', color: '#444' })
text('z score', 2906, 64, 37)
box(2945, 95, 38, 556, 'background:' + cssRamp(zStops, -3.4, 3.4) + ';')
zTicks.forEach(z => text(String(z).replace('-', '−'), 3001, 373 - z * 82.2, 36))

// ---------- panel c (the library paints dataset 0 last, so it goes on top)
new Chart(place(140, 1000, 920, 740), {
  type: 'scatter',
  data: { datasets: [
    [vennPMF3, 'rgba(193,193,65,.5)'], [vennPMF2, 'rgba(235,87,97,.5)'], [vennPMF1, 'rgba(83,145,193,.5)'], [vennBM, 'rgba(53,101,64,.5)']
  ].map(v => ({ data: ring(v[0]), showLine: true, closed: true, tension: .4, borderWidth: 0, pointRadius: 0, fill: 'shape', backgroundColor: v[1] })) },
  options: {
    scales: {
      x: { display: false, min: 0, max: 1560 },
      y: { display: false, min: 0, max: 1568, reverse: true }
    }
  },
  plugins: [{
    id: 'vennText',
    afterDatasetsDraw(chart) {
      const ctx = chart.ctx, sx = chart.scales.x, sy = chart.scales.y
      ctx.save()
      ctx.textAlign = 'center'
      ctx.textBaseline = 'middle'
      vennCounts.forEach(c => {
        ctx.font = (c[2] === '0' ? '' : 'bold ') + '45px "' + sans + '"'
        ctx.fillStyle = '#111'
        ctx.fillText(c[2], sx.getPixelForValue(c[0]), sy.getPixelForValue(c[1]))
      })
      ctx.font = '43px "' + sans + '"'
      vennNames.forEach(c => {
        ctx.fillStyle = c[3]
        ctx.fillText(c[2], sx.getPixelForValue(c[0]), sy.getPixelForValue(c[1]))
      })
      ctx.restore()
    }
  }]
})
text('c', 60, 1036, 72, { center: true, family: 'Liberation Serif', color: '#444' })

// ---------- panels d, e
function dotSprite(w, h, color) {
  const c = document.createElement('canvas')
  c.width = Math.ceil(w)
  c.height = Math.ceil(h)
  const g = c.getContext('2d')
  g.fillStyle = color
  g.beginPath()
  g.ellipse(c.width / 2, c.height / 2, w / 2, h / 2, 0, 0, Math.PI * 2)
  g.fill()
  return c
}

function bubblePanel(cfg) {
  const pts = [], sprites = []
  cfg.impact.forEach((row, r) => row.forEach((v, c) => {
    if (v === null) return
    pts.push({ x: c + 1, y: r })
    const k = Math.sqrt(v / cfg.impactTop)
    sprites.push(dotSprite(cfg.w0 + cfg.wSpan * k, cfg.h0 + cfg.hSpan * k, ramp(cfg.stops, cfg.logp[r][c])))
  }))
  const axisGrid = { color: '#e6e6e6', lineWidth: 4.5, tickColor: '#000', tickWidth: 4, tickLength: 7 }
  new Chart(place(cfg.left, cfg.top, cfg.w, cfg.h), {
    type: 'scatter',
    data: { datasets: [{ data: pts, pointRadius: 24, pointStyle: c => sprites[c.dataIndex] }] },
    options: {
      layout: { padding: { top: cfg.padTop, right: cfg.padRight } },
      plugins: { panelFrame: { stroke: '#3d3d3d', width: 4, baseTo: cfg.baseTo } },
      scales: {
        x: {
          min: cfg.xMin, max: cfg.xMax,
          afterBuildTicks: s => { s.ticks = cfg.groups.map((n, i) => ({ value: i + 1 })) },
          afterFit: s => { s.height = cfg.xHeight },
          grid: axisGrid,
          border: { display: false },
          ticks: { display: false }
        },
        y: {
          min: cfg.yMin, max: cfg.yMax, reverse: true,
          afterBuildTicks: s => { s.ticks = cfg.names.map((n, i) => ({ value: i })) },
          afterFit: s => { s.width = cfg.yWidth },
          grid: axisGrid,
          border: { color: '#000', width: 6 },
          // the empty second line lifts each label a few pixels, as in the figure
          ticks: { autoSkip: false, padding: cfg.labelPad, color: '#111', font: { size: 37.4, weight: 'bold', lineHeight: '8px' }, callback: (v, i) => [cfg.names[i], ''] }
        }
      }
    },
    plugins: [{
      id: 'groupLabels',
      afterDraw(chart) {
        const ctx = chart.ctx, sx = chart.scales.x
        ctx.save()
        ctx.fillStyle = '#111'
        ctx.font = 'bold 37px "' + sans + '"'
        ctx.textAlign = 'center'
        ctx.textBaseline = 'middle'
        cfg.groups.forEach((g, i) => {
          ctx.save()
          ctx.translate(sx.getPixelForValue(i + 1), chart.chartArea.bottom + cfg.groupDrop)
          ctx.rotate(-Math.PI / 4)
          ctx.fillText(g, 0, 0)
          ctx.restore()
        })
        ctx.restore()
      }
    }]
  })
}

const dStops = [[.95, '#f5e0dd'], [3.8, '#cf8a84'], [6.8, '#942a2a']]
const eStops = [[1, '#f5e0dd'], [3.3, '#cf8a84'], [5.9, '#942a2a']]

bubblePanel({ left: 0, top: 1700, w: 1200, h: 1420, padTop: 48, padRight: 17, xHeight: 85, yWidth: 968,
  xMin: .39, xMax: 4.6, yMin: -.56, yMax: 31.57, names: dPathways, groups: dGroups, impact: dImpact, logp: dLogP,
  impactTop: .68, w0: 23, wSpan: 25, h0: 18, hSpan: 16, stops: dStops, labelPad: 8, groupDrop: 31, baseTo: 1120 })
text('d', 70, 1825, 72, { center: true, family: 'Liberation Serif', color: '#444' })
text('impact', 1217, 2169, 37)
dImpactKey.forEach((v, i) => {
  const y = [2225, 2263, 2299, 2337.5][i], s = 18 + 16 * Math.sqrt(v / .68)
  box(1235 - s * .53, y - s / 2, s * 1.06, s, 'background:#000;border-radius:50%;')
  text(v.toFixed(1), 1273, y, 36, { color: '#222' })
})
text('−log10(P)', 1206, 2418, 37, { color: '#222' })
box(1240, 2462, 36, 173, 'background:' + cssRamp(dStops, .95, 6.8) + ';')
dLogKey.forEach(v => {
  const y = 2604 - (v - 2) * 29.6
  box(1269, y - 1, 7, 2, 'background:#f4e4e2;')
  text(String(v), 1296, y, 36, { color: '#222' })
})

bubblePanel({ left: 1500, top: 1680, w: 1260, h: 1454, padTop: 41, padRight: 19, xHeight: 83, yWidth: 1005,
  xMin: .43, xMax: 5.59, yMin: -.58, yMax: 26.58, names: ePathways, groups: eGroups, impact: eImpact, logp: eLogP,
  impactTop: .8, w0: 20, wSpan: 21, h0: 18, hSpan: 17, stops: eStops, labelPad: 12, groupDrop: 34, baseTo: 1205 })
text('e', 1580, 1828, 72, { center: true, family: 'Liberation Serif', color: '#444' })
text('−log10(P)', 2747, 2138.5, 37, { color: '#222' })
box(2782, 2183, 38, 175, 'background:' + cssRamp(eStops, 1, 5.9) + ';')
eLogKey.forEach(v => {
  const y = 2320 - (v - 2) * 38
  box(2806, y - 1, 7, 2, 'background:#f4e4e2;')
  text(String(v), 2838, y, 36, { color: '#222' })
})
text('impact', 2765, 2423, 37)
eImpactKey.forEach((v, i) => {
  const y = [2482, 2520, 2558, 2597, 2635][i], s = 18 + 17 * Math.sqrt(v / .8)
  box(2778 - s * .53, y - s / 2, s * 1.06, s, 'background:#000;border-radius:50%;')
  text(v.toFixed(1), 2819, y, 36, { color: '#222' })
})
</script>
</body>
</html>
